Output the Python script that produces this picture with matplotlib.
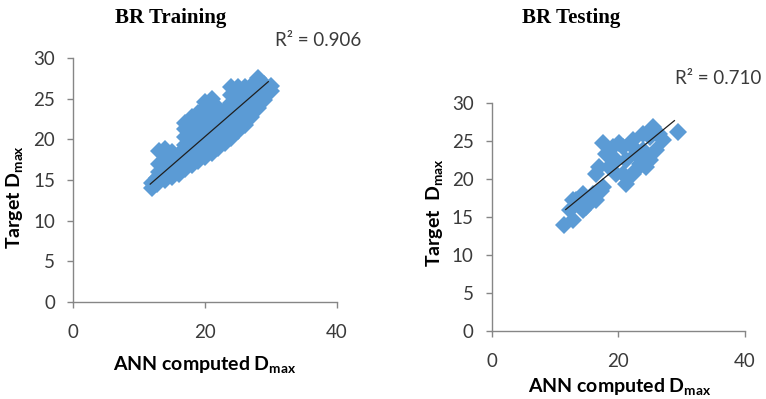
import matplotlib.pyplot as plt
import numpy as np

plt.rcParams['font.family'] = ['Lato', 'DejaVu Sans']
plt.rcParams['mathtext.fontset'] = 'custom'
plt.rcParams['mathtext.rm'] = 'Lato'
plt.rcParams['mathtext.bf'] = 'Lato:bold'

# BR training: ANN computed vs target Dmax
train_x = [12.0, 12.0, 12.8, 12.8, 13.0, 13.0, 13.0, 13.0,
           14.0, 14.0, 14.0, 14.0, 14.0, 15.0, 15.0, 15.0, 15.0,
           16.0, 16.0, 16.0, 16.0,
           17.0, 17.0, 17.0, 17.0, 17.0, 17.0, 17.0,
           18.0, 18.0, 18.0, 18.0, 18.0, 18.0, 18.0,
           19.0, 19.0, 19.0, 19.0, 19.0, 19.0, 19.0,
           20.0, 20.0, 20.0, 20.0, 20.0, 20.0, 20.0, 20.0,
           21.0, 21.0, 21.0, 21.0, 21.0, 21.0, 21.0, 21.0,
           22.0, 22.0, 22.0, 22.0, 22.0, 22.0,
           23.0, 23.0, 23.0, 23.0, 23.0,
           24.0, 24.0, 24.0, 24.0, 24.0, 24.0, 24.0,
           25.0, 25.0, 25.0, 25.0, 25.0, 25.0, 25.0,
           26.0, 26.0, 26.0, 26.0, 26.0, 26.0,
           27.0, 27.0, 27.0, 27.0, 27.0,
           28.0, 28.0, 28.0, 28.0,
           29.0, 29.0, 29.0, 30.0, 30.0]
train_y = [14.0, 14.6, 14.5, 15.3, 15.0, 16.0, 17.0, 18.6,
           15.0, 16.0, 17.0, 18.0, 18.8, 15.4, 16.4, 17.4, 18.4,
           15.8, 16.8, 17.8, 18.2,
           16.3, 17.3, 18.3, 19.3, 20.3, 21.3, 22.0,
           16.8, 17.8, 18.8, 19.8, 20.8, 21.8, 22.8,
           17.3, 18.3, 19.3, 20.3, 21.3, 22.3, 23.3,
           17.8, 18.8, 19.8, 20.8, 21.8, 22.8, 23.8, 24.6,
           18.3, 19.3, 20.3, 21.3, 22.3, 23.3, 24.3, 25.0,
           18.9, 19.9, 20.9, 21.9, 22.9, 23.8,
           19.5, 20.5, 21.5, 22.5, 23.6,
           20.2, 21.2, 22.2, 23.2, 24.5, 25.5, 26.5,
           21.0, 22.0, 23.0, 24.0, 25.0, 26.0, 26.5,
           21.8, 22.8, 23.8, 24.8, 25.8, 26.4,
           22.8, 23.8, 24.8, 25.8, 26.6,
           23.8, 24.8, 25.8, 27.6,
           24.8, 25.8, 26.8, 26.0, 26.6]

# BR testing
test_x = [11.5, 12.8, 13.4, 14.4, 14.9, 16.5, 17.3, 16.5, 17.6, 18.1,
          17.0, 18.6, 19.7, 19.2, 20.2, 21.3, 20.7, 21.3, 22.3, 22.3,
          22.8, 23.9, 24.4, 25.0, 25.0, 25.5, 26.5, 23.9, 27.1, 29.4,
          26.0, 22.8, 23.4, 19.7, 20.7, 22.3, 17.6, 16.0, 12.8, 12.3,
          14.4, 15.5]
test_y = [13.9, 14.6, 17.2, 18.1, 16.3, 17.2, 18.5, 20.7, 24.7, 23.3,
          21.6, 21.6, 20.7, 24.2, 24.7, 22.5, 20.7, 19.4, 20.7, 25.1,
          23.3, 23.8, 21.6, 22.5, 25.5, 26.8, 26.0, 26.0, 25.1, 26.2,
          23.8, 21.2, 22.0, 22.5, 24.2, 24.2, 19.0, 18.1, 17.2, 15.9,
          15.9, 17.2]

# linear trend lines (ends as drawn in the chart)
train_fit_x = [11.7, 29.6]
train_fit_y = [14.5, 27.1]
test_fit_x = [11.7, 28.9]
test_fit_y = [16.0, 27.7]

titles = ['BR Training', 'BR Testing']
r2_labels = ['R² = 0.906', 'R² = 0.710']
ylabels = [r'Target D$_\mathregular{max}$', r'Target  D$_\mathregular{max}$']
xlabel = r'ANN computed D$_\mathregular{max}$'

blue = '#5b9bd5'
gray = '#868686'
txt = '#3a3a3a'

fig = plt.figure(figsize=(7.66, 3.99), dpi=100)
ax1 = fig.add_axes([0.0953, 0.243, 0.3446, 0.6115])
ax2 = fig.add_axes([0.642, 0.1704, 0.330, 0.571])

panels = [(ax1, train_x, train_y, train_fit_x, train_fit_y),
          (ax2, test_x, test_y, test_fit_x, test_fit_y)]
for ax, xs, ys, fx, fy in panels:
    ax.plot(xs, ys, 'D', color=blue, markersize=9, markeredgewidth=0, zorder=2)
    ax.plot(fx, fy, color='#1f1f1f', lw=0.9, zorder=3)
    ax.set_xlim(0, 40)
    ax.set_ylim(0, 30)
    ax.set_xticks([0, 20, 40])
    ax.set_yticks([0, 5, 10, 15, 20, 25, 30])
    for s in ['top', 'right']:
        ax.spines[s].set_visible(False)
    for s in ['left', 'bottom']:
        ax.spines[s].set_color(gray)
        ax.spines[s].set_linewidth(1.0)
    ax.tick_params(colors=gray, labelcolor=txt, labelsize=13.5, length=4, width=1, direction='out')
    ax.tick_params(axis='x', pad=12)
    ax.tick_params(axis='y', pad=9)
    ax.set_facecolor('none')

fig.text(171 / 766, 1 - 18 / 399, titles[0], family='Liberation Serif', weight='bold',
         fontsize=15, ha='center', va='center')
fig.text(571 / 766, 1 - 18 / 399, titles[1], family='Liberation Serif', weight='bold',
         fontsize=15, ha='center', va='center')
fig.text(318 / 766, 1 - 40 / 399, r2_labels[0], fontsize=13.5, color=txt, ha='center', va='center')
fig.text(718 / 766, 1 - 78 / 399, r2_labels[1], fontsize=13.5, color=txt, ha='center', va='center')

fig.text(15 / 766, 1 - 197 / 399, ylabels[0], rotation=90, weight='bold', fontsize=14,
         ha='center', va='center')
fig.text(435 / 766, 1 - 213 / 399, ylabels[1], rotation=90, weight='bold', fontsize=14,
         ha='center', va='center')
fig.text(205 / 766, 1 - 365 / 399, xlabel, weight='bold', fontsize=14, ha='center', va='center')
fig.text(620 / 766, 1 - 387 / 399, xlabel, weight='bold', fontsize=14, ha='center', va='center')

plt.savefig('out.png', dpi=100)
